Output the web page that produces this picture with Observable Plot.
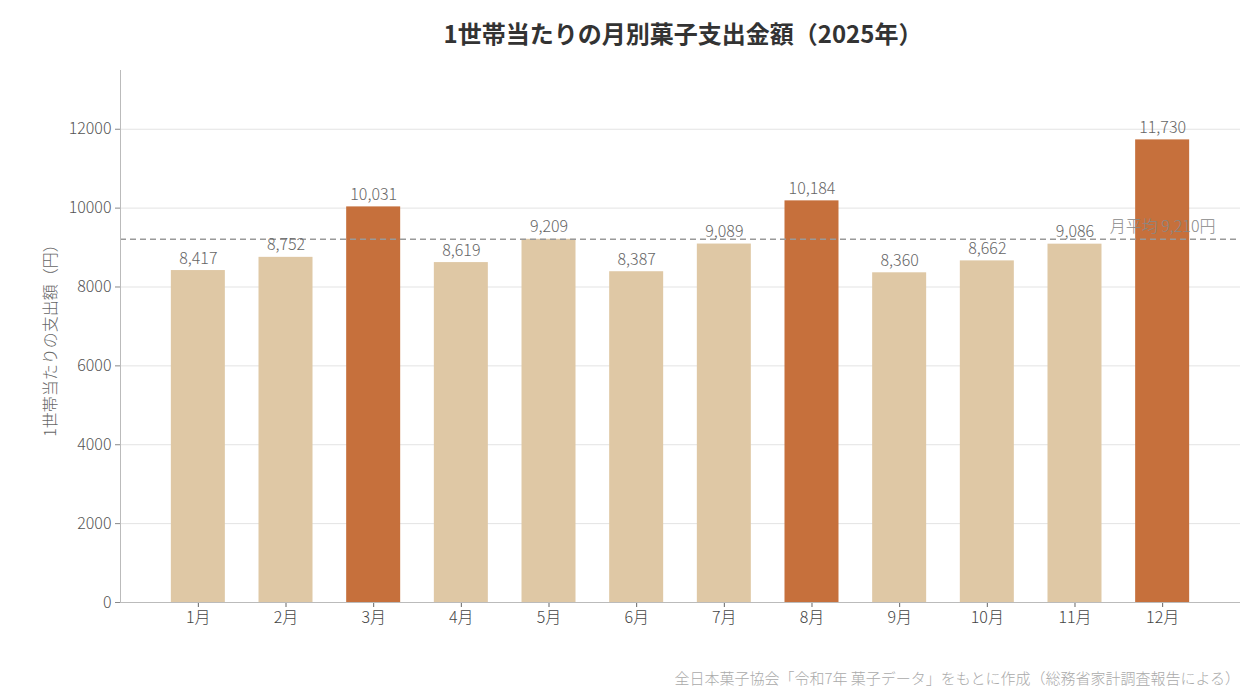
<!DOCTYPE html>
<html>
<head>
<meta charset="utf-8">
<script src="https://cdn.jsdelivr.net/npm/d3@7"></script>
<script src="https://cdn.jsdelivr.net/npm/@observablehq/plot@0.6"></script>
<style>
  body { margin: 0; background: #fff; font-family: "Noto Sans CJK JP", "Noto Sans", sans-serif; }
  #wrap { width: 1260px; height: 700px; position: relative; }
  #title { height: 60px; box-sizing: border-box; padding: 17px 20px 0 126px; text-align: center;
           font-size: 24px; font-weight: bold; color: #333; line-height: 32px; }
  #caption { position: absolute; right: 20px; top: 667px; font-size: 15px; color: #aaa; font-weight: 300; }
</style>
</head>
<body>
<div id="wrap">
  <div id="title">1世帯当たりの月別菓子支出金額（2025年）</div>
  <div id="chart"></div>
  <div id="caption">全日本菓子協会「令和7年 菓子データ」をもとに作成（総務省家計調査報告による）</div>
</div>
<script>
const months = ["1月","2月","3月","4月","5月","6月","7月","8月","9月","10月","11月","12月"];
const values = [8417, 8752, 10031, 8619, 9209, 8387, 9089, 10184, 8360, 8662, 9086, 11730];
const highlightMonths = ["3月","8月","12月"];
const average = 9210;
const averageLabel = "月平均 9,210円";
const yTicks = [0, 2000, 4000, 6000, 8000, 10000, 12000];
const yLabel = "1世帯当たりの支出額（円）";

const data = months.map((m, i) => ({month: m, value: values[i], hi: highlightMonths.includes(m)}));
const fmt = d3.format(",");

const chart = Plot.plot({
  width: 1260,
  height: 582,
  marginLeft: 120,
  marginRight: 20,
  marginTop: 10,
  marginBottom: 40,
  style: {fontFamily: '"Noto Sans CJK JP", "Noto Sans", sans-serif', fontSize: "16px", fontWeight: 300, color: "#555", background: "white"},
  x: {domain: months, paddingInner: 0.384, paddingOuter: 0.58, round: false, label: null},
  y: {domain: [0, 11730 * 1.15], label: null},
  marks: [
    Plot.gridY(yTicks, {stroke: "#e3e3e3", strokeOpacity: 1}),
    Plot.barY(data, {x: "month", y: "value", fill: d => d.hi ? "#c6703c" : "#dfc8a5"}),
    Plot.ruleY([average], {stroke: "#999", strokeWidth: 1.5, strokeDasharray: "6,4"}),
    Plot.text(data, {x: "month", y: "value", text: d => fmt(d.value), dy: -12, fill: "#666", fontSize: 16}),
    Plot.text([averageLabel], {frameAnchor: "right", y: [average], text: d => d, dx: -25, dy: -12, textAnchor: "end", fill: "#888", fontSize: 16}),
    Plot.axisY({ticks: yTicks, tickFormat: d => String(d), tickSize: 5, label: null, fontSize: 16, color: "#555", stroke: "#888"}),
    Plot.axisX({tickSize: 5, label: null, fontSize: 16, color: "#444", stroke: "#666"}),
    Plot.ruleY([0], {stroke: "#bbb"}),
    Plot.frame({anchor: "left", stroke: "#bbb"}),
    Plot.text([yLabel], {frameAnchor: "left", text: d => d, dx: -70, rotate: -90, textAnchor: "middle", fill: "#666", fontSize: 16})
  ]
});
document.getElementById("chart").appendChild(chart);
</script>
</body>
</html>
